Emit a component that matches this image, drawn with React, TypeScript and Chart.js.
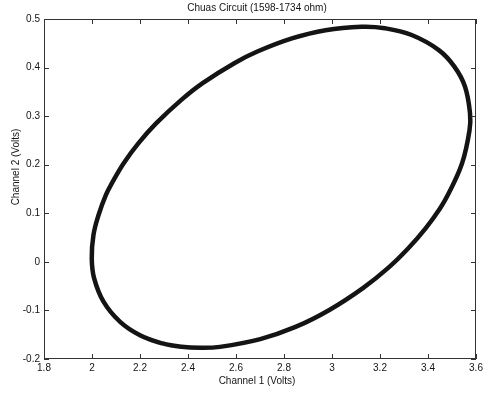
import React, { useEffect, useRef } from "react";
import { Chart, registerables } from "chart.js";

Chart.register(...registerables);

const titleText = "Chuas Circuit (1598-1734 ohm)";
const xAxisLabel = "Channel 1 (Volts)";
const yAxisLabel = "Channel 2 (Volts)";

const xTicks = [1.8, 2.0, 2.2, 2.4, 2.6, 2.8, 3.0, 3.2, 3.4, 3.6];
const xTickLabels = ["1.8", "2", "2.2", "2.4", "2.6", "2.8", "3", "3.2", "3.4", "3.6"];
const yTicks = [-0.2, -0.1, 0, 0.1, 0.2, 0.3, 0.4, 0.5];
const yTickLabels = ["-0.2", "-0.1", "0", "0.1", "0.2", "0.3", "0.4", "0.5"];

// Channel 1 (x) and Channel 2 (y) samples read around the closed orbit
const channel1 = [
  1.999, 2.006, 2.027, 2.058, 2.083, 2.132, 2.193, 2.267, 2.371, 2.461, 2.593, 2.689,
  2.833, 2.973, 3.123, 3.22, 3.332, 3.445, 3.51, 3.554, 3.575, 3.573, 3.542, 3.483,
  3.45, 3.39, 3.318, 3.233, 3.129, 2.989, 2.848, 2.701, 2.533, 2.451, 2.373, 2.294,
  2.2, 2.116, 2.048, 2.009,
];
const channel2 = [
  0.007, 0.055, 0.096, 0.138, 0.162, 0.203, 0.244, 0.285, 0.333, 0.368, 0.409, 0.433,
  0.46, 0.477, 0.484, 0.481, 0.467, 0.436, 0.402, 0.361, 0.306, 0.271, 0.203, 0.138,
  0.11, 0.069, 0.028, -0.013, -0.054, -0.099, -0.134, -0.159, -0.175, -0.177, -0.175, -0.168,
  -0.151, -0.123, -0.082, -0.034,
];

const FONT = "10px 'Liberation Sans', Arial, sans-serif";
const INK = "#141414";

const framePlugin = {
  id: "matlabFrame",
  afterDraw(chart: any) {
    const { ctx, chartArea } = chart;
    const { left, right, top, bottom } = chartArea;
    const xs = chart.scales.x;
    const ys = chart.scales.y;
    ctx.save();
    ctx.strokeStyle = "#333";
    ctx.lineWidth = 1;
    ctx.strokeRect(left + 0.5, top + 0.5, right - left - 1, bottom - top - 1);
    const tl = 5;
    ctx.beginPath();
    xTicks.forEach((v) => {
      const px = Math.round(xs.getPixelForValue(v)) + 0.5;
      ctx.moveTo(px, bottom);
      ctx.lineTo(px, bottom - tl);
      ctx.moveTo(px, top);
      ctx.lineTo(px, top + tl);
    });
    yTicks.forEach((v) => {
      const py = Math.round(ys.getPixelForValue(v)) + 0.5;
      ctx.moveTo(left, py);
      ctx.lineTo(left + tl, py);
      ctx.moveTo(right, py);
      ctx.lineTo(right - tl, py);
    });
    ctx.stroke();

    ctx.fillStyle = INK;
    ctx.font = FONT;
    ctx.textAlign = "center";
    ctx.textBaseline = "middle";
    ctx.fillText(titleText, 257, 8);
    ctx.fillText(xAxisLabel, 257, 381);
    ctx.translate(16, 167);
    ctx.rotate(-Math.PI / 2);
    ctx.fillText(yAxisLabel, 0, 0);
    ctx.restore();
  },
};

export default function App() {
  const canvasRef = useRef<HTMLCanvasElement | null>(null);

  useEffect(() => {
    document.body.style.margin = "0";
    const canvas = canvasRef.current;
    if (!canvas) return;
    const pts = channel1.map((x, i) => ({ x, y: channel2[i] }));
    // wrap around so the closed loop is smooth at the join; the wrap segments are hidden
    const data = [pts[pts.length - 1], ...pts, pts[0], pts[1]];
    const n = data.length;
    const chart = new Chart(canvas, {
      type: "scatter",
      data: {
        datasets: [
          {
            data,
            showLine: true,
            borderColor: INK,
            borderWidth: 4.5,
            pointRadius: 0,
            tension: 0.4,
            fill: false,
            segment: {
              borderColor: (c: any) =>
                c.p0DataIndex === 0 || c.p1DataIndex === n - 1 ? "rgba(0,0,0,0)" : INK,
            },
          } as any,
        ],
      },
      options: {
        animation: false,
        responsive: false,
        maintainAspectRatio: false,
        layout: { padding: { top: 19, right: 13, left: 0, bottom: 0 } },
        plugins: {
          legend: { display: false },
          tooltip: { enabled: false },
          title: { display: false },
        },
        scales: {
          x: {
            type: "linear",
            min: 1.8,
            max: 3.6,
            afterBuildTicks: (s: any) => {
              s.ticks = xTicks.map((v) => ({ value: v }));
            },
            afterFit: (s: any) => {
              s.height = 38;
            },
            ticks: {
              autoSkip: false,
              maxRotation: 0,
              padding: 3,
              color: INK,
              font: { family: "'Liberation Sans', Arial, sans-serif", size: 10 },
              callback: (_v: any, i: number) => xTickLabels[i],
            },
            grid: { display: false, drawTicks: false },
            border: { display: false },
          },
          y: {
            type: "linear",
            min: -0.2,
            max: 0.5,
            afterBuildTicks: (s: any) => {
              s.ticks = yTicks.map((v) => ({ value: v }));
            },
            afterFit: (s: any) => {
              s.width = 44;
            },
            ticks: {
              autoSkip: false,
              padding: 4,
              color: INK,
              font: { family: "'Liberation Sans', Arial, sans-serif", size: 10 },
              callback: (_v: any, i: number) => yTickLabels[i],
            },
            grid: { display: false, drawTicks: false },
            border: { display: false },
          },
        },
      },
      plugins: [framePlugin],
    });
    return () => chart.destroy();
  }, []);

  return (
    <div style={{ position: "absolute", left: 0, top: 0, width: 489, height: 397, background: "#fff" }}>
      <canvas ref={canvasRef} width={489} height={397} style={{ width: 489, height: 397 }} />
    </div>
  );
}
